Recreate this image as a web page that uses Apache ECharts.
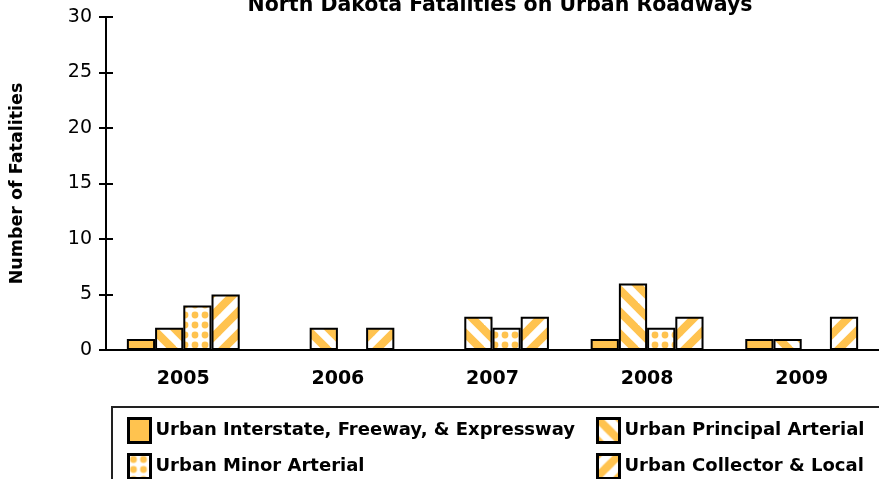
<!DOCTYPE html>
<html>
<head>
<meta charset="utf-8">
<script src="https://cdn.jsdelivr.net/npm/echarts@6/dist/echarts.min.js"></script>
<style>
  html, body { margin: 0; padding: 0; background: #fff; }
  #chart { width: 879px; height: 479px; }
</style>
</head>
<body>
<div id="chart"></div>
<script>
  const years = ["2005", "2006", "2007", "2008", "2009"]
  const interstate = [1, 0, 0, 1, 1]
  const principal = [2, 2, 3, 6, 1]
  const minor = [4, 0, 2, 2, 0]
  const collector = [5, 2, 3, 3, 3]
  const seriesNames = [
    "Urban Interstate, Freeway, & Expressway",
    "Urban Principal Arterial",
    "Urban Minor Arterial",
    "Urban Collector & Local",
  ]

  const orange = "#FFC34F"
  const font = "DejaVu Sans"

  // pattern fills drawn on small canvases
  function stripes(down) {
    const s = 22
    const c = document.createElement("canvas")
    c.width = s
    c.height = s
    const g = c.getContext("2d")
    g.fillStyle = "#fff"
    g.fillRect(0, 0, s, s)
    g.strokeStyle = orange
    g.lineWidth = 8
    // lines run past the tile edges so the tiles join without gaps
    for (let k = -2; k <= 2; k++) {
      g.beginPath()
      if (down) {
        g.moveTo(k * s - s, -s)
        g.lineTo(k * s + 2 * s, 2 * s)
      } else {
        g.moveTo(k * s - s, 2 * s)
        g.lineTo(k * s + 2 * s, -s)
      }
      g.stroke()
    }
    return { image: c, repeat: "repeat" }
  }
  function dots() {
    const s = 10
    const c = document.createElement("canvas")
    c.width = s
    c.height = s
    const g = c.getContext("2d")
    g.fillStyle = "#fff"
    g.fillRect(0, 0, s, s)
    g.fillStyle = orange
    g.beginPath()
    g.arc(5, 5, 3.4, 0, Math.PI * 2)
    g.fill()
    return { image: c, repeat: "repeat" }
  }

  function bar(name, data, color) {
    return {
      name: name,
      type: "bar",
      data: data,
      barGap: 0,
      barCategoryGap: "27%",
      itemStyle: { color: color, borderColor: "#000", borderWidth: 2 },
    }
  }

  function legendItem(name, left, top) {
    return {
      data: [name],
      left: left,
      top: top,
      itemWidth: 22,
      itemHeight: 24,
      icon: "rect",
      itemStyle: { borderColor: "#000", borderWidth: 3 },
      textStyle: { fontFamily: font, fontWeight: "bold", fontSize: 18, color: "#000" },
    }
  }

  const myChart = echarts.init(document.getElementById("chart"))
  const option = {
    animation: false,
    title: {
      text: "North Dakota Fatalities on Urban Roadways",
      left: 495,
      textAlign: "center",
      top: -10,
      textStyle: { fontFamily: font, fontWeight: "bold", fontSize: 20.5, color: "#000" },
    },
    grid: { left: 104, top: 17, width: 780, bottom: 129, containLabel: false },
    xAxis: [
      {
        type: "category",
        data: years,
        axisLine: { lineStyle: { color: "#000", width: 2 } },
        axisTick: { length: 7, lineStyle: { color: "#000", width: 2 } },
        axisLabel: { fontFamily: font, fontWeight: "bold", fontSize: 19, color: "#000", margin: 20 },
      },
      {
        type: "category",
        data: years,
        position: "bottom",
        axisLine: { show: false },
        axisTick: { inside: true, length: 7, lineStyle: { color: "#000", width: 2 } },
        axisLabel: { show: false },
      },
    ],
    yAxis: [
      {
        type: "value",
        min: 0,
        max: 30,
        interval: 5,
        name: "Number of Fatalities",
        nameLocation: "middle",
        nameGap: 80,
        nameTextStyle: { fontFamily: font, fontWeight: "bold", fontSize: 17.5, color: "#000" },
        axisLine: { show: true, lineStyle: { color: "#000", width: 2 } },
        axisTick: { show: true, length: 7, lineStyle: { color: "#000", width: 2 } },
        axisLabel: { fontFamily: font, fontSize: 19, color: "#000", margin: 14 },
        splitLine: { show: false },
      },
      {
        type: "value",
        min: 0,
        max: 30,
        interval: 5,
        position: "left",
        axisLine: { show: false },
        axisTick: { show: true, inside: true, length: 7, lineStyle: { color: "#000", width: 2 } },
        axisLabel: { show: false },
        splitLine: { show: false },
      },
    ],
    legend: [
      legendItem(seriesNames[0], 122, 412),
      legendItem(seriesNames[2], 122, 448),
      legendItem(seriesNames[1], 591, 412),
      legendItem(seriesNames[3], 591, 448),
    ],
    graphic: [
      {
        type: "rect",
        shape: { x: 112, y: 407, width: 800, height: 100 },
        style: { fill: "none", stroke: "#222", lineWidth: 2 },
      },
    ],
    series: [
      bar(seriesNames[0], interstate, orange),
      bar(seriesNames[1], principal, stripes(true)),
      bar(seriesNames[2], minor, dots()),
      bar(seriesNames[3], collector, stripes(false)),
    ],
  }
  myChart.setOption(option)
</script>
</body>
</html>
